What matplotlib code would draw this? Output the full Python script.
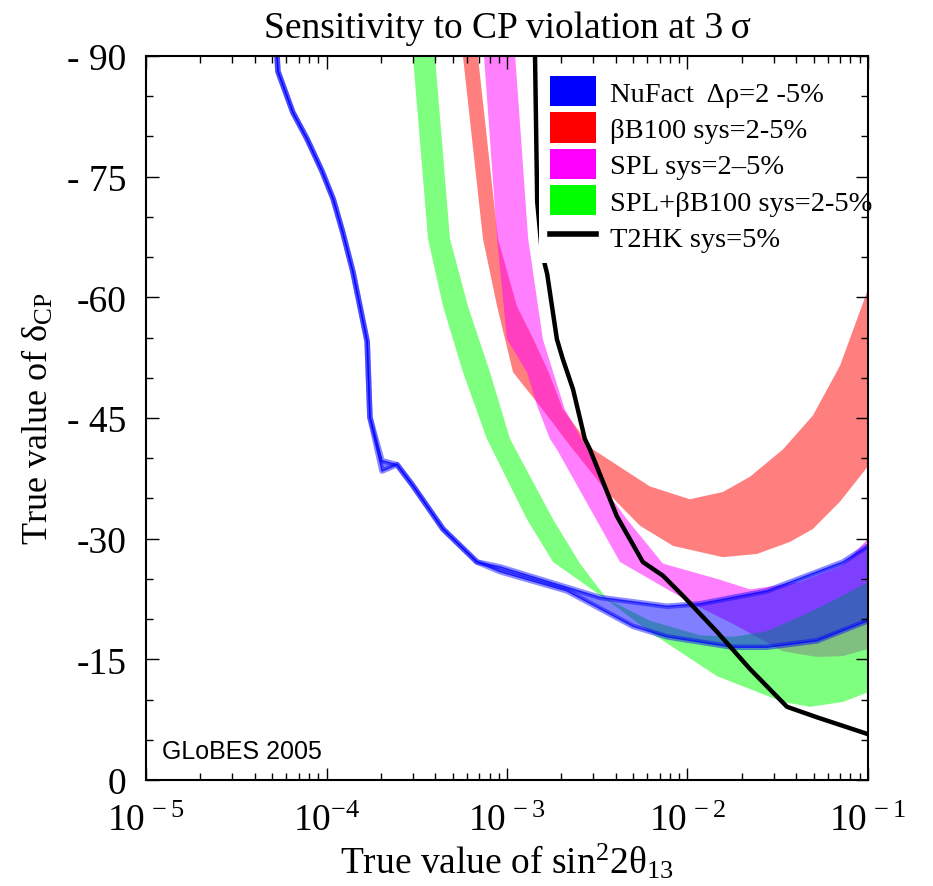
import matplotlib
matplotlib.use("Agg")
import matplotlib.pyplot as plt
from matplotlib.patches import Patch
from matplotlib.lines import Line2D
from matplotlib.ticker import FixedLocator, FixedFormatter, MultipleLocator

plt.rcParams['font.family'] = ['Liberation Serif', 'DejaVu Serif']
plt.rcParams['mathtext.fontset'] = 'custom'
plt.rcParams['mathtext.rm'] = 'Liberation Serif'
plt.rcParams['mathtext.it'] = 'Liberation Serif:italic'

# NuFact band: edges for delta rho = 2% and 5%
nf_x_2 = [5.32e-5, 5.38e-5, 6.51e-5, 7.80e-5, 9.44e-5, 1.09e-4, 1.23e-4, 1.40e-4, 1.68e-4, 1.74e-4,
          2.03e-4, 2.46e-4, 3.01e-4, 4.42e-4, 6.82e-4, 9.14e-4, 3.27e-3, 7.69e-3, 1.17e-2, 2.75e-2,
          7.26e-2, 0.1]
nf_d_2 = [-90, -88.1, -83.0, -79.7, -75.7, -72.2, -68.1, -63.2, -54.5, -45.1,
          -39.7, -39.2, -36.6, -31.2, -27.1, -26.5, -22.7, -21.6, -21.9, -23.5,
          -27.1, -29.1]
nf_x_5 = [5.32e-5, 5.38e-5, 6.51e-5, 7.80e-5, 9.44e-5, 1.09e-4, 1.23e-4, 1.40e-4, 1.68e-4, 1.74e-4,
          2.03e-4, 2.46e-4, 3.01e-4, 4.42e-4, 6.82e-4, 9.14e-4, 2.15e-3, 4.99e-3, 7.69e-3, 1.79e-2,
          2.75e-2, 5.21e-2, 0.1]
nf_d_5 = [-90, -88.1, -83.0, -79.7, -75.7, -72.2, -68.1, -63.2, -54.5, -45.1,
          -38.4, -39.2, -36.6, -31.2, -27.1, -25.9, -23.5, -19.1, -17.8, -16.5,
          -16.5, -17.3, -19.8]

# beta beam 100
bb_x_lo = [5.70e-4, 7.36e-4, 8.81e-4, 1.08e-3, 1.52e-3, 2.32e-3, 3.58e-3, 5.46e-3, 8.32e-3,
           1.57e-2, 2.43e-2, 3.70e-2, 4.95e-2, 7.00e-2, 0.1]
bb_d_lo = [-90, -67.3, -58.9, -50.7, -46.5, -41.1, -35.8, -31.6, -29.1,
           -27.7, -28.1, -29.6, -31.2, -34.6, -39.0]
bb_x_hi = [6.90e-4, 8.91e-4, 1.135e-3, 1.40e-3, 1.70e-3, 2.04e-3, 2.99e-3, 6.19e-3, 1.03e-2,
           1.57e-2, 2.22e-2, 3.38e-2, 4.95e-2, 7.00e-2, 0.1]
bb_d_hi = [-90, -67.3, -58.9, -54.8, -50.7, -46.1, -41.1, -36.5, -34.9,
           -35.8, -37.7, -41.1, -45.3, -51.5, -61.0]

# SPL
spl_x_lo = [7.46e-4, 8.81e-4, 1.0e-3, 1.29e-3, 1.47e-3, 1.73e-3, 1.89e-3, 4.23e-3, 1.03e-2,
            1.79e-2, 3.38e-2, 5.21e-2, 7.26e-2, 0.1]
spl_d_lo = [-90, -67.3, -54.8, -50.7, -46.5, -42.4, -41.1, -27.1, -22.1,
            -19.4, -16.0, -15.3, -15.4, -16.3]
spl_x_hi = [1.11e-3, 1.31e-3, 1.58e-3, 2.09e-3, 2.99e-3, 3.58e-3, 4.62e-3, 7.31e-3, 1.46e-2,
            2.22e-2, 4.20e-2, 7.26e-2, 0.1]
spl_d_hi = [-90, -67.3, -54.8, -46.1, -39.9, -35.8, -32.4, -26.9, -25.0,
            -23.7, -24.6, -26.7, -30.0]

# SPL + beta beam 100
sb_x_lo = [3.01e-4, 3.65e-4, 4.42e-4, 5.70e-4, 7.74e-4, 1.29e-3, 1.80e-3, 3.72e-3, 6.19e-3,
           1.46e-2, 3.38e-2, 4.78e-2, 7.26e-2, 0.1]
sb_d_lo = [-90, -67.3, -58.9, -50.7, -42.4, -32.4, -27.1, -22.1, -18.4,
           -12.9, -9.7, -9.1, -9.7, -10.9]
sb_x_hi = [3.99e-4, 4.83e-4, 6.08e-4, 8.05e-4, 1.04e-3, 1.80e-3, 2.54e-3, 3.58e-3, 6.19e-3,
           1.17e-2, 1.79e-2, 2.75e-2, 4.20e-2, 6.40e-2, 0.1]
sb_d_hi = [-90, -67.3, -58.9, -50.7, -42.4, -32.4, -26.9, -22.5, -19.8,
           -18.0, -17.8, -18.5, -20.3, -22.3, -24.6]

# T2HK
t2hk_x = [1.43e-3, 1.47e-3, 1.56e-3, 1.67e-3, 1.89e-3, 2.04e-3, 2.32e-3, 2.70e-3, 2.88e-3,
          4.06e-3, 5.66e-3, 7.31e-3, 9.44e-3, 1.46e-2, 2.22e-2, 3.56e-2, 5.21e-2, 0.1]
t2hk_d = [-90, -71.9, -65.6, -62.9, -54.8, -52.3, -48.6, -42.4, -41.1,
          -32.8, -27.1, -25.4, -22.9, -18.4, -13.8, -9.1, -7.8, -5.7]

labels = ["NuFact  \u0394\u03c1=2 -5%", "\u03b2B100 sys=2-5%", "SPL sys=2\u20135%",
          "SPL+\u03b2B100 sys=2-5%", "T2HK sys=5%"]
y_ticks = [0, -15, -30, -45, -60, -75, -90]
y_tick_labels = ["0", "-15", "-30", "- 45", "-60", "- 75", "- 90"]
x_ticks = [1e-5, 1e-4, 1e-3, 1e-2, 1e-1]
x_tick_labels = [r"$10^{\,-5}$", r"$10^{-4}$", r"$10^{\,-3}$", r"$10^{\,-2}$", r"$10^{\,-1}$"]

fig = plt.figure(figsize=(9.33, 8.87), dpi=100)
ax = fig.add_axes([0.1565, 0.1195, 0.7738, 0.8162])
ax.set_axisbelow(False)


def band(xa, ya, xb, yb, color):
    ax.fill(list(xa) + list(xb)[::-1], list(ya) + list(yb)[::-1],
            color=color, alpha=0.5, lw=0)


band(bb_x_lo, bb_d_lo, bb_x_hi, bb_d_hi, 'red')
band(spl_x_lo, spl_d_lo, spl_x_hi, spl_d_hi, 'magenta')
band(sb_x_lo, sb_d_lo, sb_x_hi, sb_d_hi, 'lime')
band(nf_x_2, nf_d_2, nf_x_5, nf_d_5, 'blue')
for xs, ys in [(nf_x_2, nf_d_2), (nf_x_5, nf_d_5)]:
    ax.plot(xs, ys, color='blue', lw=4, alpha=0.45, solid_capstyle='butt')
    ax.plot(xs, ys, color='blue', lw=1, alpha=0.7)

ax.plot(t2hk_x, t2hk_d, color='black', lw=3.2, zorder=2)

ax.set_xscale('log')
ax.set_xlim(1e-5, 1e-1)
ax.set_ylim(0, -90)

ax.xaxis.set_major_locator(FixedLocator(x_ticks))
ax.xaxis.set_major_formatter(FixedFormatter(x_tick_labels))
ax.yaxis.set_major_locator(FixedLocator(y_ticks))
ax.yaxis.set_major_formatter(FixedFormatter(y_tick_labels))
ax.yaxis.set_minor_locator(MultipleLocator(5))
ax.tick_params(which='both', direction='in', top=True, right=True, width=1)
ax.tick_params(which='major', length=9, labelsize=27)
ax.tick_params(axis='x', which='major', pad=17)
ax.tick_params(axis='y', which='major', pad=14)
ax.tick_params(which='minor', length=5)
for s in ax.spines.values():
    s.set_linewidth(1.5)
    s.set_zorder(3)

ax.set_title("Sensitivity to CP violation at 3\u2009\u03c3", fontsize=27, pad=14)
ax.set_xlabel("True value of sin$^2$2\u03b8$_{13}$", fontsize=27, labelpad=2)
ax.set_ylabel("True value of \u03b4$_{\\rm CP}$", fontsize=26, labelpad=8)

ax.text(0.022, 0.03, "GLoBES 2005", transform=ax.transAxes, fontsize=18,
        family='Liberation Sans')

handles = [Patch(facecolor='blue', edgecolor='none'),
           Patch(facecolor='red', edgecolor='none'),
           Patch(facecolor='magenta', edgecolor='none'),
           Patch(facecolor='lime', edgecolor='none'),
           Line2D([], [], color='black', lw=4)]
leg = ax.legend(handles, labels, loc='upper left', bbox_to_anchor=(0.544, 0.988),
                frameon=True, fancybox=False, edgecolor='none', facecolor='white',
                framealpha=1, fontsize=20.5, handlelength=1.6, handleheight=1.25,
                labelspacing=0.2, handletextpad=0.5, borderpad=0.4, borderaxespad=0)
leg.set_zorder(2.2)

fig.savefig("out.png", dpi=100)
